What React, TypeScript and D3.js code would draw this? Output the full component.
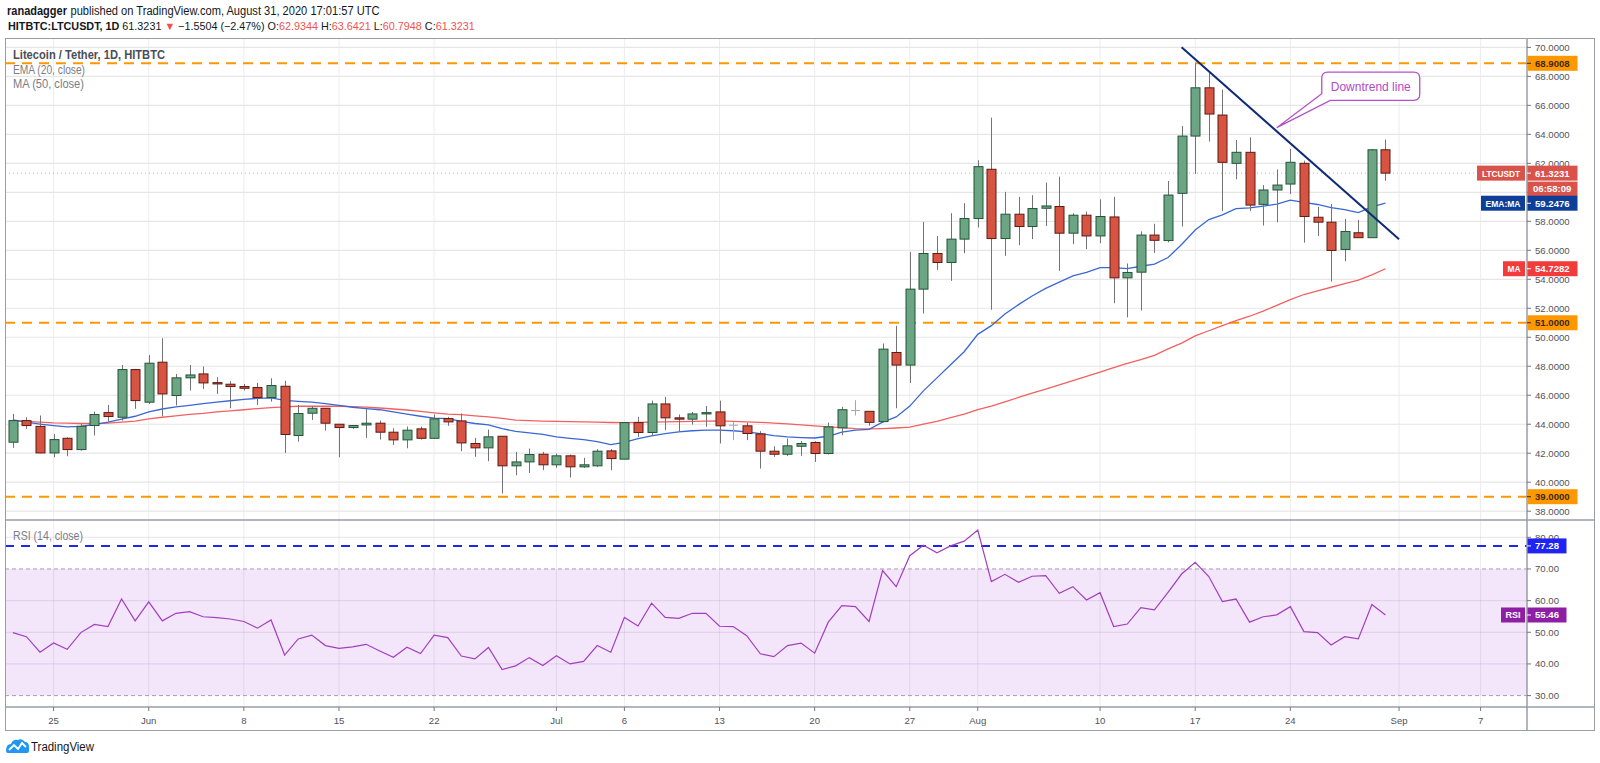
import type { ReactNode } from 'react'
import { line, scaleLinear, scaleUtc, utcDay } from 'd3'

// daily candles, first one is 22 May 2020
const firstDay = new Date(Date.UTC(2020, 4, 22))

const opens = [
  42.76, 44.25, 43.85, 42.02, 43.03, 42.25, 43.91, 44.8, 44.48, 47.77,
  45.52, 48.28, 45.98, 47.2, 47.47, 46.87, 46.76, 46.6, 46.53, 45.84,
  46.62, 43.22, 44.76, 45.1, 44.0, 43.77, 43.95, 44.07, 43.45, 42.92,
  43.68, 43.03, 44.39, 44.23, 42.67, 42.37, 43.17, 41.13, 41.4, 41.93,
  41.2, 41.82, 41.06, 41.13, 42.16, 41.59, 44.11, 43.43, 45.4, 44.44,
  44.35, 44.71, 44.85, 43.93, 43.89, 43.33, 42.14, 41.93, 42.48, 42.74,
  41.98, 43.75, 44.95, 44.89, 44.18, 48.95, 48.08, 53.32, 55.78, 55.16,
  56.77, 58.19, 61.59, 56.81, 58.49, 57.64, 58.9, 59.02, 57.18, 58.42,
  56.99, 58.3, 54.1, 54.49, 57.05, 56.67, 59.93, 63.88, 67.21, 65.33,
  62.0, 62.76, 59.17, 60.16, 60.57, 62.0, 58.28, 57.94, 56.06, 57.21,
  56.87, 62.9344,
]

const highs = [
  44.71, 44.48, 44.6, 43.33, 43.1, 44.02, 44.87, 45.33, 48.09, 47.82,
  48.78, 49.93, 47.47, 48.09, 47.98, 47.24, 46.97, 46.78, 46.85, 47.17,
  46.99, 45.33, 45.24, 45.1, 44.0, 43.95, 45.06, 44.25, 43.72, 43.84,
  43.84, 44.67, 44.51, 44.74, 43.06, 43.63, 43.17, 42.09, 42.32, 42.09,
  41.98, 41.91, 41.68, 42.28, 42.28, 44.11, 44.51, 45.63, 45.89, 44.67,
  44.85, 45.26, 45.63, 44.16, 44.11, 43.52, 42.48, 43.01, 42.83, 42.83,
  44.11, 45.2, 45.66, 44.89, 49.57, 50.79, 55.89, 57.96, 56.99, 58.56,
  59.25, 62.21, 65.15, 60.03, 59.68, 59.8, 60.67, 61.08, 58.56, 58.67,
  59.52, 59.68, 55.09, 57.3, 57.83, 60.78, 64.57, 68.89, 68.31, 67.09,
  63.61, 63.79, 60.5, 61.58, 62.99, 62.18, 59.0, 59.19, 58.17, 58.1,
  62.98, 63.6421,
]

const lows = [
  42.37, 43.68, 42.0, 41.72, 41.79, 42.18, 43.22, 44.18, 44.25, 45.06,
  45.4, 44.55, 45.29, 46.32, 46.44, 46.09, 45.1, 46.32, 45.33, 45.56,
  42.02, 42.8, 44.3, 43.56, 41.72, 43.68, 43.06, 42.94, 42.57, 42.34,
  42.94, 42.98, 43.89, 42.14, 41.75, 41.45, 39.22, 40.48, 40.64, 40.83,
  40.99, 40.32, 40.99, 41.06, 40.83, 41.59, 43.13, 43.2, 43.59, 43.47,
  43.98, 43.82, 42.67, 42.9, 42.9, 40.94, 41.75, 41.82, 41.82, 41.4,
  41.91, 43.24, 44.6, 43.9, 44.18, 45.1, 46.84, 51.64, 54.65, 53.89,
  55.8, 57.57, 51.9, 55.62, 56.35, 56.77, 57.68, 54.58, 56.42, 56.08,
  56.49, 52.35, 51.37, 51.85, 55.82, 56.55, 57.64, 61.27, 63.5, 58.7,
  60.9, 58.7, 57.71, 57.94, 59.88, 56.53, 56.98, 53.84, 55.25, 56.87,
  56.87, 60.7948,
]

const closes = [
  44.25, 43.91, 42.02, 42.94, 42.25, 43.86, 44.67, 44.53, 47.77, 45.63,
  48.21, 46.09, 47.2, 47.4, 46.85, 46.78, 46.6, 46.48, 45.84, 46.67,
  43.29, 44.74, 45.1, 44.07, 43.77, 43.91, 44.07, 43.45, 42.92, 43.59,
  43.03, 44.37, 44.16, 42.71, 42.37, 43.13, 41.13, 41.4, 41.91, 41.2,
  41.82, 41.06, 41.2, 42.14, 41.63, 44.11, 43.43, 45.4, 44.44, 44.35,
  44.71, 44.8, 43.89, 43.93, 43.36, 42.14, 41.93, 42.51, 42.67, 41.98,
  43.82, 45.0, 44.95, 44.13, 49.18, 48.08, 53.32, 55.78, 55.16, 56.77,
  58.19, 61.77, 56.81, 58.49, 57.64, 58.88, 59.06, 57.18, 58.42, 56.99,
  58.33, 54.1, 54.47, 57.05, 56.69, 59.81, 63.88, 67.21, 65.4, 62.07,
  62.76, 59.12, 60.16, 60.5, 62.07, 58.33, 57.94, 55.99, 57.3, 56.87,
  62.9344, 61.3231,
]

const ema20 = [
  44.3, 44.15, 44.0, 43.9, 43.82, 43.85, 43.98, 44.15, 44.35, 44.55,
  44.85, 45.05, 45.2, 45.3, 45.42, 45.52, 45.62, 45.72, 45.78, 45.82,
  45.65, 45.58, 45.52, 45.42, 45.3, 45.17, 45.08, 45.0, 44.85, 44.7,
  44.55, 44.42, 44.39, 44.2, 44.05, 43.95, 43.7, 43.5, 43.4, 43.3,
  43.13, 43.03, 42.94, 42.8, 42.6, 42.75, 43.0, 43.2, 43.35, 43.47,
  43.55, 43.6, 43.6, 43.55, 43.47, 43.35, 43.22, 43.13, 43.08, 43.05,
  43.17, 43.45, 43.6, 43.65, 44.15, 44.5, 45.25, 46.3, 47.2, 48.1,
  49.0, 50.2, 50.8, 51.6, 52.25, 52.85, 53.37, 53.8, 54.24, 54.47,
  54.81, 54.8, 54.74, 54.9, 55.05, 55.5, 56.4, 57.4, 58.12, 58.45,
  58.88, 58.92, 59.04, 59.18, 59.46, 59.3, 59.16, 58.95, 58.8, 58.6,
  59.0, 59.2476,
]

const ma50 = [
  44.25, 44.2, 44.15, 44.1, 44.08, 44.05, 44.05, 44.08, 44.14, 44.22,
  44.37, 44.48, 44.58, 44.68, 44.75, 44.85, 44.92, 45.0, 45.08, 45.15,
  45.2, 45.24, 45.24, 45.24, 45.24, 45.22, 45.18, 45.12, 45.05, 44.98,
  44.88, 44.78, 44.7, 44.66, 44.58, 44.51, 44.4, 44.28, 44.25, 44.22,
  44.2, 44.18, 44.16, 44.14, 44.12, 44.11, 44.12, 44.14, 44.16, 44.18,
  44.2, 44.22, 44.23, 44.2, 44.16, 44.13, 44.08, 44.02, 43.96, 43.89,
  43.82, 43.76, 43.7, 43.68, 43.7, 43.74, 43.8, 44.0, 44.2, 44.45,
  44.7, 45.0, 45.25, 45.55, 45.85, 46.15, 46.43, 46.72, 47.0, 47.3,
  47.6, 47.9, 48.2, 48.45, 48.75, 49.2, 49.6, 50.1, 50.45, 50.8,
  51.15, 51.45, 51.8, 52.2, 52.6, 52.95, 53.2, 53.45, 53.7, 53.95,
  54.3, 54.7282,
]

const rsi14 = [
  49.9, 48.6, 43.7, 46.6, 44.6, 49.9, 52.5, 51.8, 60.5, 53.6,
  59.6, 53.6, 56.0, 56.5, 54.9, 54.6, 54.2, 53.4, 51.3, 53.9,
  42.8, 47.9, 49.1, 45.8, 44.9, 45.4, 46.2, 44.1, 42.1, 45.3,
  43.3, 49.1, 48.3, 42.5, 41.6, 45.2, 38.2, 39.4, 42.0, 39.5,
  42.6, 40.0, 40.8, 45.8, 43.7, 54.7, 52.0, 59.2, 54.7, 54.4,
  56.0, 56.0, 51.9, 51.8, 48.9, 43.2, 42.3, 45.8, 46.6, 43.4,
  53.2, 58.4, 58.1, 53.4, 69.5, 64.4, 74.2, 77.5, 75.1, 77.3,
  78.8, 82.3, 66.0, 68.3, 65.8, 67.7, 67.9, 62.3, 64.4, 60.2,
  62.5, 51.8, 52.6, 57.8, 57.1, 62.6, 68.4, 72.1, 67.6, 59.7,
  60.5, 53.2, 54.9, 55.5, 58.1, 50.2, 49.9, 46.0, 48.6, 47.9,
  58.8, 55.46,
]

const priceTicks = [38, 40, 42, 44, 46, 48, 50, 52, 54, 56, 58, 60, 62, 64, 66, 68, 70]
const rsiTicks = [30, 40, 50, 60, 70, 80]
const timeTicks: [string, string][] = [
  ['2020-05-25', '25'], ['2020-06-01', 'Jun'], ['2020-06-08', '8'], ['2020-06-15', '15'],
  ['2020-06-22', '22'], ['2020-07-01', 'Jul'], ['2020-07-06', '6'], ['2020-07-13', '13'],
  ['2020-07-20', '20'], ['2020-07-27', '27'], ['2020-08-01', 'Aug'], ['2020-08-10', '10'],
  ['2020-08-17', '17'], ['2020-08-24', '24'], ['2020-09-01', 'Sep'], ['2020-09-07', '7'],
]

const levels = [68.9008, 51, 39]
const rsiLevel = 77.28
const trendStart = { day: 86, price: 70.0 }
const trendEnd = { day: 102, price: 56.76 }
const calloutTip = { day: 93, price: 64.46 }

const font = "'Liberation Sans', Arial, sans-serif"
const width = 1600
const height = 763
const frame = { left: 5, top: 38, right: 1594, bottom: 730 }
const paneRight = 1527
const mainBottom = 520
const rsiBottom = 707
const axisFont = 9.6

const upFill = '#6ba583'
const upBorder = '#225437'
const downFill = '#d75442'
const downBorder = '#5b1a13'
const wickColor = '#737375'
const orange = '#ff9800'

const x = scaleUtc()
  .domain([new Date(Date.UTC(2020, 4, 25)), new Date(Date.UTC(2020, 8, 7))])
  .range([53.6, 1480.6])

const y = scaleLinear().domain([39, 68.9008]).range([496.7, 63.3])
const yRsi = scaleLinear().domain([30, 80]).range([695.6, 537.3])

const dayX = (i: number) => x(utcDay.offset(firstDay, i))

type FitTextProps = {
  x: number
  y: number
  w: number
  size: number
  fill: string
  weight?: number
  anchor?: 'start' | 'middle' | 'end'
  children: ReactNode
}

// the original uses a narrow font, so texts are squeezed to its widths
function FitText({ x, y, w, size, fill, weight = 400, anchor = 'start', children }: FitTextProps) {
  return (
    <text
      x={x}
      y={y}
      fontSize={size}
      fontWeight={weight}
      fill={fill}
      textAnchor={anchor}
      textLength={w}
      lengthAdjust="spacingAndGlyphs"
    >
      {children}
    </text>
  )
}

type TagProps = {
  yPos: number
  text: string
  fill: string
  color?: string
  boxWidth?: number
  name?: string
  nameWidth?: number
  nameTextWidth?: number
}

function Tag({ yPos, text, fill, color = '#fff', boxWidth = 50, name, nameWidth = 0, nameTextWidth = 0 }: TagProps) {
  return (
    <g>
      {name && (
        <g>
          <rect x={paneRight - 2 - nameWidth} y={yPos - 7.5} width={nameWidth} height={15} fill={fill} />
          <FitText
            x={paneRight - 2 - nameWidth / 2}
            y={yPos + 3.5}
            w={nameTextWidth}
            size={axisFont}
            weight={700}
            fill={color}
            anchor="middle"
          >
            {name}
          </FitText>
        </g>
      )}
      <rect x={paneRight + 0.5} y={yPos - 7.5} width={boxWidth} height={15} fill={fill} />
      <line x1={paneRight} x2={paneRight + 4} y1={yPos} y2={yPos} stroke={color} />
      <text x={paneRight + 8} y={yPos + 3.5} fontSize={axisFont} fontWeight={700} fill={color}>
        {text}
      </text>
    </g>
  )
}

function App() {
  const days = closes.map((_, i) => i)
  const bodyWidth = 9

  const emaPath = line<number>()
    .x((i) => dayX(i))
    .y((i) => y(ema20[i]))(days)
  const maPath = line<number>()
    .x((i) => dayX(i))
    .y((i) => y(ma50[i]))(days)
  const rsiPath = line<number>()
    .x((i) => dayX(i))
    .y((i) => yRsi(rsi14[i]))(days)

  const tipX = dayX(calloutTip.day)
  const tipY = y(calloutTip.price)
  const boxX = tipX + 45
  const boxY = tipY - 55.6
  const lastY = y(closes[closes.length - 1])
  const timerY = lastY + 15.5

  // axis labels that sit fully under a price tag are not drawn, as on the original
  const hiddenPrice = priceTicks.filter((tick) => Math.abs(y(tick) - timerY) < 7)

  return (
    <svg
      width={width}
      height={height}
      viewBox={`0 0 ${width} ${height}`}
      style={{ position: 'fixed', left: 0, top: 0, display: 'block', background: '#fff' }}
      fontFamily={font}
    >
      <defs>
        <clipPath id="main-pane">
          <rect x={frame.left} y={frame.top} width={paneRight - frame.left} height={mainBottom - frame.top} />
        </clipPath>
        <clipPath id="rsi-pane">
          <rect x={frame.left} y={mainBottom} width={paneRight - frame.left} height={rsiBottom - mainBottom} />
        </clipPath>
      </defs>

      {/* header */}
      <FitText x={7} y={15} w={60} size={12} weight={700} fill="#131722">
        ranadagger
      </FitText>
      <FitText x={70.5} y={15} w={309} size={12} fill="#131722">
        published on TradingView.com, August 31, 2020 17:01:57 UTC
      </FitText>
      <text x={8} y={29.5} fontSize={10.8} fill="#131722">
        <tspan fontWeight={700}>HITBTC:LTCUSDT, 1D</tspan>
        <tspan> 61.3231 </tspan>
        <tspan fill="#ef5350">▼</tspan>
        <tspan> −1.5504 (−2.47%) O:</tspan>
        <tspan fill="#ef5350">62.9344</tspan>
        <tspan> H:</tspan>
        <tspan fill="#ef5350">63.6421</tspan>
        <tspan> L:</tspan>
        <tspan fill="#ef5350">60.7948</tspan>
        <tspan> C:</tspan>
        <tspan fill="#ef5350">61.3231</tspan>
      </text>

      {/* RSI band */}
      <rect
        x={frame.left}
        y={yRsi(70)}
        width={paneRight - frame.left}
        height={yRsi(30) - yRsi(70)}
        fill="#f3e6fb"
      />

      {/* grid */}
      {timeTicks.map(([date]) => {
        const tx = x(new Date(date + 'T00:00:00Z'))
        return (
          <line
            key={`v-${date}`}
            x1={tx}
            x2={tx}
            y1={frame.top}
            y2={rsiBottom}
            stroke="rgba(0,0,0,0.075)"
          />
        )
      })}
      {priceTicks.map((tick) => (
        <line
          key={`h-${tick}`}
          x1={frame.left}
          x2={paneRight}
          y1={y(tick)}
          y2={y(tick)}
          stroke="#e6e6e6"
          strokeWidth={1.2}
        />
      ))}
      {[40, 50, 60, 80].map((tick) => (
        <line
          key={`r-${tick}`}
          x1={frame.left}
          x2={paneRight}
          y1={yRsi(tick)}
          y2={yRsi(tick)}
          stroke="rgba(120,60,150,0.12)"
          strokeWidth={1.2}
        />
      ))}
      {[30, 70].map((tick) => (
        <line
          key={`rb-${tick}`}
          x1={frame.left}
          x2={paneRight}
          y1={yRsi(tick)}
          y2={yRsi(tick)}
          stroke="#a99bb3"
          strokeDasharray="4 3"
        />
      ))}

      <g clipPath="url(#main-pane)">
        {/* horizontal levels */}
        {levels.map((level) => (
          <line
            key={`lvl-${level}`}
            x1={frame.left}
            x2={paneRight}
            y1={y(level)}
            y2={y(level)}
            stroke={orange}
            strokeWidth={2}
            strokeDasharray="10 7"
          />
        ))}
        <line
          x1={frame.left}
          x2={paneRight - 50}
          y1={lastY}
          y2={lastY}
          stroke="#e57373"
          strokeOpacity={0.7}
          strokeDasharray="1 3"
        />

        {/* averages */}
        <path d={maPath ?? ''} fill="none" stroke="#f46060" strokeWidth={1.3} />
        <path d={emaPath ?? ''} fill="none" stroke="#3a68d3" strokeWidth={1.3} />

        {/* candles */}
        {days.map((i) => {
          const cx = Math.round(dayX(i)) + 0.5
          const o = opens[i]
          const c = closes[i]
          const doji = Math.abs(o - c) < 0.02
          const up = c >= o
          const top = y(Math.max(o, c))
          const bottom = y(Math.min(o, c))
          return (
            <g key={`c-${i}`}>
              <line x1={cx} x2={cx} y1={y(highs[i])} y2={y(lows[i])} stroke={doji ? '#a8a8a8' : wickColor} />
              {doji ? (
                <line
                  x1={cx - bodyWidth / 2}
                  x2={cx + bodyWidth / 2}
                  y1={top}
                  y2={top}
                  stroke="#a8a8a8"
                />
              ) : (
                <rect
                  x={cx - bodyWidth / 2}
                  y={top}
                  width={bodyWidth}
                  height={Math.max(bottom - top, 1)}
                  fill={up ? upFill : downFill}
                  stroke={up ? upBorder : downBorder}
                  strokeWidth={1}
                />
              )}
            </g>
          )
        })}

        {/* trend line */}
        <line
          x1={dayX(trendStart.day)}
          y1={y(trendStart.price)}
          x2={dayX(trendEnd.day)}
          y2={y(trendEnd.price)}
          stroke="#0f2a78"
          strokeWidth={2}
        />

        {/* callout */}
        <path
          d={`M${boxX + 6},${boxY} H${boxX + 92} Q${boxX + 98},${boxY} ${boxX + 98},${boxY + 6} V${boxY + 22.3} Q${boxX + 98},${boxY + 28.3} ${boxX + 92},${boxY + 28.3} H${boxX + 8.6} L${tipX},${tipY} L${boxX},${boxY + 21.6} V${boxY + 6} Q${boxX},${boxY} ${boxX + 6},${boxY} Z`}
          fill="#fff"
          stroke="#b451c8"
          strokeWidth={1.3}
        />
        <FitText x={boxX + 49} y={boxY + 18.5} w={80} size={12.5} fill="#b04ac6" anchor="middle">
          Downtrend line
        </FitText>
      </g>

      {/* legend */}
      <FitText x={13} y={59} w={152} size={12.5} weight={700} fill="#4a4e59">
        Litecoin / Tether, 1D, HITBTC
      </FitText>
      <FitText x={13} y={73.5} w={72} size={12.5} fill="#7a7d87">
        EMA (20, close)
      </FitText>
      <FitText x={13} y={88} w={71} size={12.5} fill="#7a7d87">
        MA (50, close)
      </FitText>

      {/* RSI pane */}
      <g clipPath="url(#rsi-pane)">
        <line
          x1={frame.left}
          x2={paneRight}
          y1={yRsi(rsiLevel)}
          y2={yRsi(rsiLevel)}
          stroke="#1f24f0"
          strokeWidth={2}
          strokeDasharray="9 7"
        />
        <path d={rsiPath ?? ''} fill="none" stroke="#a23fbd" strokeWidth={1.2} />
      </g>
      <FitText x={13} y={540} w={70} size={12.5} fill="#7a7d87">
        RSI (14, close)
      </FitText>

      {/* frame and separators */}
      <rect
        x={frame.left + 0.5}
        y={frame.top + 0.5}
        width={frame.right - frame.left}
        height={frame.bottom - frame.top}
        fill="none"
        stroke="#9a9da6"
      />
      <line x1={frame.left} x2={frame.right} y1={mainBottom} y2={mainBottom} stroke="#9a9da6" strokeWidth={1.5} />
      <line x1={frame.left} x2={frame.right} y1={rsiBottom} y2={rsiBottom} stroke="#9a9da6" strokeWidth={1.5} />
      <line x1={paneRight} x2={paneRight} y1={frame.top} y2={frame.bottom} stroke="#9a9da6" strokeWidth={1.5} />

      {/* price axis */}
      {priceTicks.map((tick) => (
        <g key={`pt-${tick}`}>
          <line x1={paneRight} x2={paneRight + 4} y1={y(tick)} y2={y(tick)} stroke="#777" />
          {!hiddenPrice.includes(tick) && (
            <text x={paneRight + 8} y={y(tick) + 3.5} fontSize={axisFont} fill="#50535e">
              {tick.toFixed(4)}
            </text>
          )}
        </g>
      ))}
      {rsiTicks.map((tick) => (
        <g key={`rt-${tick}`}>
          <line x1={paneRight} x2={paneRight + 4} y1={yRsi(tick)} y2={yRsi(tick)} stroke="#777" />
          <text x={paneRight + 8} y={yRsi(tick) + 3.5} fontSize={axisFont} fill="#50535e">
            {tick.toFixed(2)}
          </text>
        </g>
      ))}

      {levels.map((level) => (
        <Tag key={`tag-${level}`} yPos={y(level)} text={level.toFixed(4)} fill={orange} color="#3b2a10" />
      ))}
      <Tag
        yPos={lastY}
        text={closes[closes.length - 1].toFixed(4)}
        fill="#d9534a"
        name="LTCUSDT"
        nameWidth={48}
        nameTextWidth={38}
      />
      <g>
        <rect x={paneRight + 0.5} y={timerY - 7} width={50} height={14.5} fill="#d9534a" />
        <text x={paneRight + 6} y={timerY + 3.5} fontSize={axisFont} fontWeight={700} fill="#fff">
          06:58:09
        </text>
      </g>
      <Tag
        yPos={y(ema20[ema20.length - 1])}
        text={ema20[ema20.length - 1].toFixed(4)}
        fill="#0d3f98"
        name="EMA:MA"
        nameWidth={44}
        nameTextWidth={35}
      />
      <Tag
        yPos={y(ma50[ma50.length - 1])}
        text={ma50[ma50.length - 1].toFixed(4)}
        fill="#f23b3b"
        name="MA"
        nameWidth={22}
        nameTextWidth={13}
      />
      <Tag yPos={yRsi(rsiLevel)} text={rsiLevel.toFixed(2)} fill="#1f24f0" boxWidth={39} />
      <Tag
        yPos={yRsi(rsi14[rsi14.length - 1])}
        text={rsi14[rsi14.length - 1].toFixed(2)}
        fill="#8e1ea3"
        boxWidth={39}
        name="RSI"
        nameWidth={24}
        nameTextWidth={15}
      />

      {/* time axis */}
      {timeTicks.map(([date, label]) => {
        const tx = x(new Date(date + 'T00:00:00Z'))
        return (
          <g key={`tt-${date}`}>
            <line x1={tx} x2={tx} y1={rsiBottom} y2={rsiBottom + 4} stroke="#777" />
            <text x={tx} y={723.5} textAnchor="middle" fontSize={axisFont} fill="#50535e">
              {label}
            </text>
          </g>
        )
      })}

      {/* footer logo */}
      <g transform="translate(6, 739)">
        <path
          d="M0,12 Q0,5 5,5 Q7,0 12,1 Q16,-1 19,3 Q23,3 23,8 L23,12 Q23,14 21,14 L2,14 Q0,14 0,12 Z"
          fill="#2196f3"
        />
        <polyline points="3,11 8,6 12,10 16,4 20,8" fill="none" stroke="#fff" strokeWidth={1.8} />
        <FitText x={25} y={12} w={63} size={12.5} fill="#131722">
          TradingView
        </FitText>
      </g>
    </svg>
  )
}

export default App
